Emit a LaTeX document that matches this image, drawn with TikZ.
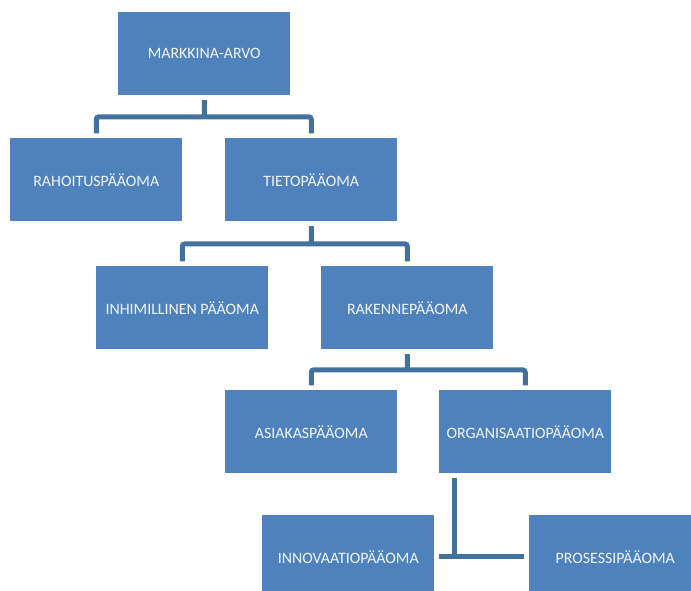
\documentclass[tikz,border=0pt]{standalone}
\usepackage{fontspec}
\setmainfont{Carlito}
\usetikzlibrary{positioning, calc}
\definecolor{officeblue}{HTML}{4F81BD}
\definecolor{linkblue}{HTML}{41719C}

\begin{document}
\begin{tikzpicture}[x=0.75pt, y=-0.75pt]
		\tikzstyle{capbox}=[draw=none, fill=officeblue, minimum width=129pt, minimum height=62.25pt, anchor=north west, text=white!92!officeblue, font=\fontsize{11.9}{14}\selectfont, inner sep=0pt]
		\tikzstyle{link}=[draw=linkblue, line width=3.75pt, rounded corners=2pt, shorten <=3.5pt, shorten >=3.5pt]
		
		\useasboundingbox (0,0) rectangle (691,591);
		\clip (0,0) rectangle (691,591);
		
		\node [capbox](markkina) at (118,12) {MARKKINA-ARVO};
		\node [capbox](rahoitus) at (10,138) {RAHOITUSPÄÄOMA};
		\node [capbox](tieto) at (225,138) {TIETOPÄÄOMA};
		\node [capbox](inhimillinen) at (96,266) {INHIMILLINEN PÄÄOMA};
		\node [capbox](rakenne) at (321,266) {RAKENNEPÄÄOMA};
		\node [capbox](asiakas) at (225,390) {ASIAKASPÄÄOMA};
		\node [capbox](organisaatio) at (439,390) {ORGANISAATIOPÄÄOMA};
		\node [capbox](innovaatio) at (262,515) {INNOVAATIOPÄÄOMA};
		\node [capbox](prosessi) at (529,515) {PROSESSIPÄÄOMA};
		
		%% branch points half way between the levels
		\coordinate (j1) at ($(markkina.south)!0.5!(markkina.south |- tieto.north)$);
		\coordinate (j2) at ($(tieto.south)!0.5!(tieto.south |- rakenne.north)$);
		\coordinate (j3) at ($(rakenne.south)!0.5!(rakenne.south |- asiakas.north)$);
		\coordinate (o1) at ($(organisaatio.south west)+(15,0)$);
		
		\draw [link, shorten >=0pt] (markkina.south)--(j1);
		\draw [link] (rahoitus.north) |- (j1) -| (tieto.north);
		\draw [link, shorten >=0pt] (tieto.south)--(j2);
		\draw [link] (inhimillinen.north) |- (j2) -| (rakenne.north);
		\draw [link, shorten >=0pt] (rakenne.south)--(j3);
		\draw [link] (asiakas.north) |- (j3) -| (organisaatio.north);
		\draw [link, shorten >=-1.9pt, rounded corners=0pt] (o1)--(o1 |- innovaatio.east);
		\draw [link, rounded corners=0pt] (innovaatio.east)--(prosessi.west);
		\end{tikzpicture}
\end{document}
